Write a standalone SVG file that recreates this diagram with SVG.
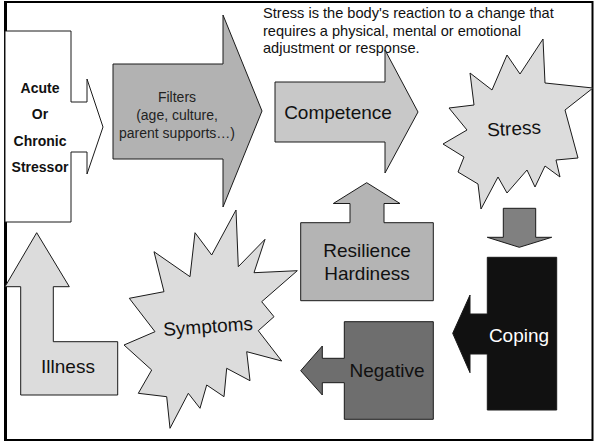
<svg xmlns="http://www.w3.org/2000/svg" width="594" height="443" viewBox="0 0 594 443">
<style>
.sh{stroke:#1a1a1a;stroke-width:1;stroke-linejoin:miter}
text{font-family:"Liberation Sans",Arial,sans-serif;fill:#111}
.b{font-weight:bold;font-size:14px}
.m{font-size:14px;fill:#222}
.l{font-size:19px}
.d{font-size:14.6px}
</style>
<rect x="0" y="0" width="594" height="443" fill="#fff"/>
<g id="frame">
<rect x="5" y="2" width="587.5" height="438" fill="none" stroke="#000" stroke-width="2"/>
<line x1="5.5" y1="2" x2="5.5" y2="441" stroke="#000" stroke-width="3"/>
</g>
<g id="definition">
<text class="d" x="263" y="18">Stress is the body's reaction to a change that</text>
<text class="d" x="263" y="35.5">requires a physical, mental or emotional</text>
<text class="d" x="263" y="53">adjustment or response.</text>
</g>
<g id="stressor">
<path class="sh" fill="#fff" d="M5,31 H71 V102 H87 V79 L103,127 L87,174 V152 H71 V222 H5 Z"/>
<text class="b" text-anchor="middle" x="40" y="93">Acute</text>
<text class="b" text-anchor="middle" x="40" y="119">Or</text>
<text class="b" text-anchor="middle" x="40" y="146">Chronic</text>
<text class="b" text-anchor="middle" x="40" y="172">Stressor</text>
</g>
<g id="filters">
<path class="sh" fill="#b2b2b2" d="M113,64 H223 V15 L262,111 L223,207 V159 H113 Z"/>
<text class="m" text-anchor="middle" x="177" y="102">Filters</text>
<text class="m" text-anchor="middle" x="177" y="120">(age, culture,</text>
<text class="m" text-anchor="middle" x="177" y="138">parent supports…)</text>
</g>
<g id="competence">
<path class="sh" fill="#c8c8c8" d="M275,82 H385 V50 L418,112 L385,173 V142 H275 Z"/>
<text class="l" text-anchor="middle" x="338" y="119">Competence</text>
</g>
<g id="stress">
<path class="sh" fill="#dcdcdc" d="M543,39 L545,83 L593,88 L565,110 L578,158 L556,160 L560,177 L545,166 L535,187 L527,170 L507,193 L498,177 L481,209 L478,184 L458,172 L464,157 L443,144 L467,130 L449,108 L474,105 L470,73 L492,90 L507,55 L520,74 Z"/>
<text class="l" text-anchor="middle" x="514" y="135" transform="rotate(-3 514 129)">Stress</text>
</g>
<g id="connectors">
<path class="sh" fill="#808080" d="M503.3,208.3 H535.7 V237.3 H551.7 L519.3,247.3 L487.3,237.3 H503.3 Z"/>
</g>
<g id="resilience">
<path class="sh" fill="#b4b4b4" d="M300.7,300.7 V222.7 H350 V203.5 H333.3 L366.7,182.7 L400,203.5 H384 V222.7 H433.3 V300.7 Z"/>
<text class="l" text-anchor="middle" x="367" y="257">Resilience</text>
<text class="l" text-anchor="middle" x="367" y="280">Hardiness</text>
</g>
<g id="coping">
<path class="sh" fill="#111" d="M487.3,257.3 H556.7 V410 H487.3 V354 H470 V372.7 L452.7,333.3 L470,295 V314 H487.3 Z"/>
<text class="l" text-anchor="middle" x="519" y="342" fill="#fff" style="fill:#fff">Coping</text>
</g>
<g id="negative">
<path class="sh" fill="#6e6e6e" d="M344.3,321.7 H433.3 V419.3 H344.3 V382.7 H322.3 V395 L300.7,370.7 L322.3,346 V358.3 H344.3 Z"/>
<text class="l" text-anchor="middle" x="387" y="377">Negative</text>
</g>
<g id="symptoms">
<path class="sh" fill="#dcdcdc" d="M236,210 L238.3,266.7 L265,239.3 L254,272.7 L297.3,270.7 L261.7,301.7 L274,316.7 L258.3,330.7 L281.7,361 L246.7,351.7 L250,380.7 L226.7,368.3 L224,396.7 L206.7,385 L200,408.3 L188.3,393.3 L170,428.3 L166.7,396.7 L138.3,393.3 L151.7,370 L124,345 L155,331.7 L129.3,298.3 L164,291.7 L154,251.7 L190,276.7 L195,232.7 L211.7,255 Z"/>
<text class="l" text-anchor="middle" x="208" y="333" transform="rotate(-4 208 326)">Symptoms</text>
</g>
<g id="illness">
<path class="sh" fill="#dcdcdc" d="M20.7,395 V286.7 H5 L36.7,232.7 L69.3,286.7 H53.3 V341.7 H117.7 V395 Z"/>
<text class="l" text-anchor="middle" x="68" y="373">Illness</text>
</g>
</svg>
